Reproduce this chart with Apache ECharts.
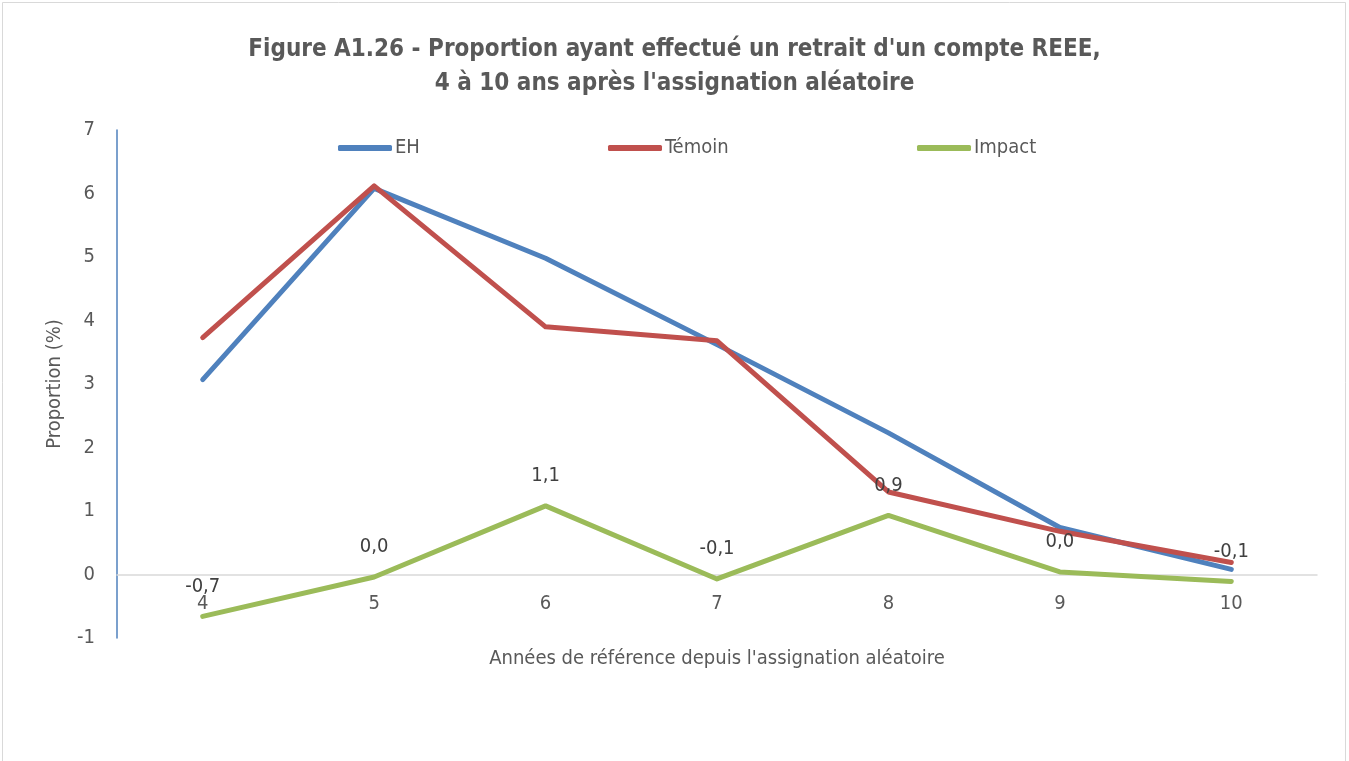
<!DOCTYPE html>
<html>
<head>
<meta charset="utf-8">
<script src="https://cdn.jsdelivr.net/npm/echarts@6/dist/echarts.min.js"></script>
<style>
  html, body { margin: 0; padding: 0; background: #fff; }
  #chart { width: 1349px; height: 761px; }
</style>
</head>
<body>
<div id="chart"></div>
<script>
var years = ['4', '5', '6', '7', '8', '9', '10'];
var eh = [3.07, 6.08, 4.98, 3.62, 2.23, 0.74, 0.08];
var temoin = [3.73, 6.12, 3.90, 3.68, 1.30, 0.68, 0.19];
var impact = [-0.66, -0.04, 1.08, -0.07, 0.93, 0.04, -0.11];

var FONT = '"DejaVu Sans Condensed", "Liberation Sans Narrow", "Liberation Sans", sans-serif';

function frNum(v) {
  var r = Math.round(v * 10) / 10;
  if (r === 0) return '0,0';
  return r.toFixed(1).replace('.', ',');
}

var chart = echarts.init(document.getElementById('chart'));

function leg(name, left) {
  return {
    data: [name], left: left, top: 133,
    itemWidth: 54, itemHeight: 6,
    icon: 'roundRect',
    textStyle: { fontFamily: FONT, fontSize: 20, color: '#595959', padding: [0, 0, 0, -2] }
  };
}

var option = {
  backgroundColor: '#fff',
  animation: false,
  title: {
    text: "Figure A1.26 - Proportion ayant effectué un retrait d'un compte REEE,\n4 à 10 ans après l'assignation aléatoire",
    left: 'center', top: 28,
    textStyle: { fontFamily: FONT, fontSize: 24, fontWeight: 'bold', color: '#595959', lineHeight: 34, align: 'center' }
  },
  graphic: [{
    type: 'rect', shape: { x: 2.5, y: 2.5, width: 1343, height: 800 },
    style: { fill: 'none', stroke: '#D9D9D9', lineWidth: 1 }, silent: true
  }],
  legend: [leg('EH', 333), leg('Témoin', 603), leg('Impact', 912)],
  grid: { left: 117, right: 32, top: 130, bottom: 123 },
  xAxis: {
    type: 'category',
    data: years,
    name: "Années de référence depuis l'assignation aléatoire",
    nameLocation: 'middle', nameGap: 11,
    nameTextStyle: { fontFamily: FONT, fontSize: 20, color: '#595959' },
    axisLine: { onZero: true, lineStyle: { color: '#D9D9D9', width: 1.5 } },
    axisTick: { show: false },
    axisLabel: { fontFamily: FONT, fontSize: 20, color: '#595959', margin: -44 }
  },
  yAxis: {
    type: 'value', min: -1, max: 7, interval: 1,
    name: 'Proportion (%)',
    nameLocation: 'middle', nameGap: 52, nameRotate: 90,
    nameTextStyle: { fontFamily: FONT, fontSize: 20, color: '#595959' },
    axisLine: { show: true, lineStyle: { color: '#4F81BD', width: 1.5 } },
    axisTick: { show: false },
    splitLine: { show: false },
    axisLabel: { fontFamily: FONT, fontSize: 20, color: '#595959', margin: 22 }
  },
  series: [
    {
      name: 'EH', type: 'line', data: eh, showSymbol: false,
      color: '#4F81BD', lineStyle: { width: 5, cap: 'round', join: 'round' }
    },
    {
      name: 'Témoin', type: 'line', data: temoin, showSymbol: false,
      color: '#C0504D', lineStyle: { width: 5, cap: 'round', join: 'round' }
    },
    {
      name: 'Impact', type: 'line', data: impact, showSymbol: true, symbol: 'circle', symbolSize: 0.1,
      color: '#9BBB59', lineStyle: { width: 5, cap: 'round', join: 'round' },
      label: {
        show: true, position: 'top', distance: 20,
        fontFamily: FONT, fontSize: 20, color: '#404040',
        formatter: function (p) { return frNum(p.value); }
      }
    }
  ]
};
chart.setOption(option);
window.onresize = function () { chart.resize(); };
</script>
</body>
</html>
